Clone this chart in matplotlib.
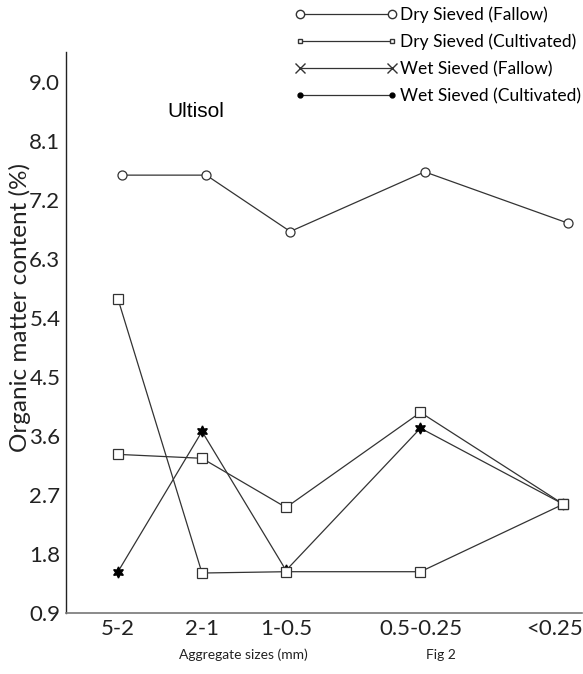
import matplotlib
matplotlib.use('Agg')
import matplotlib.pyplot as plt
import matplotlib.transforms as mtransforms
from matplotlib.lines import Line2D

# aggregate size classes and where they sit on the (uneven) x axis
sizes = ['5-2', '2-1', '1-0.5', '0.5-0.25', '<0.25']
size_pos = [0, 1, 2, 3.6, 5.3]

dry_fallow = [7.58, 7.58, 6.72, 7.63, 6.85]
dry_cultivated = [5.69, 1.51, 1.53, 1.53, 2.56]
wet_fallow = [3.32, 3.26, 2.51, 3.96, 2.56]
wet_cultivated = [1.53, 3.67, 1.55, 3.72, 2.56]

yticks = [0.9, 1.8, 2.7, 3.6, 4.5, 5.4, 6.3, 7.2, 8.1, 9.0]

plt.rcParams['font.family'] = ['Lato', 'DejaVu Sans']
lc = '#333333'

fig = plt.figure(figsize=(5.83, 6.74), dpi=100)
ax = fig.add_axes([0.113, 0.0905, 0.885, 0.8325])

# the circle series sits a touch to the right in the original
ax.plot([p + 0.05 for p in size_pos], dry_fallow, color=lc, lw=0.9,
        marker='o', ms=6.5, mfc='white', mec=lc, mew=0.9)
ax.plot(size_pos, wet_cultivated, color=lc, lw=0.9, marker=(6, 1, 0), ms=8,
        mfc='black', mec='black', zorder=2)
ax.plot(size_pos, dry_cultivated, color=lc, lw=0.9, marker='s', ms=7,
        mfc='white', mec=lc, mew=0.9, zorder=3)
ax.plot(size_pos, wet_fallow, color=lc, lw=0.9, marker='s', ms=7,
        mfc='white', mec=lc, mew=0.9, zorder=3)

ax.set_xlim(-0.62, 5.52)
ax.set_ylim(0.9, 9.46)
ax.set_xticks(size_pos)
ax.set_xticklabels(sizes)
ax.set_yticks(yticks)
ax.set_yticklabels(['%.1f' % v for v in yticks])
ax.tick_params(length=0, labelsize=16, colors='#222222', pad=4)
# last label pulled left so it stays inside the figure
last = ax.get_xticklabels()[-1]
last.set_transform(last.get_transform() +
                   mtransforms.ScaledTranslation(-9 / 100, 0, fig.dpi_scale_trans))

for s in ['top', 'right']:
    ax.spines[s].set_visible(False)
ax.spines['left'].set_color('#222222')
ax.spines['bottom'].set_color('#777777')
ax.spines['left'].set_linewidth(1.0)
ax.spines['bottom'].set_linewidth(1.2)

ax.set_ylabel('Organic matter content (%)', fontsize=17.5, color='#222222')
ax.yaxis.set_label_coords(-0.068, 0.545)
ax.text(0.93, 8.55, 'Ultisol', fontsize=15, family='Liberation Sans',
        ha='center', va='center')

fig.text(243 / 583, 1 - 655 / 674, 'Aggregate sizes (mm)', fontsize=10,
         ha='center', va='center', color='#222222')
fig.text(441 / 583, 1 - 655 / 674, 'Fig 2', fontsize=10,
         ha='center', va='center', color='#222222')

# legend proxies, markers at both ends of a long line
handles = [
    Line2D([], [], color=lc, lw=0.9, marker='o', ms=6, mfc='white', mec=lc),
    Line2D([], [], color=lc, lw=0.9, marker='s', ms=3, mfc='white', mec=lc),
    Line2D([], [], color=lc, lw=0.9, marker='x', ms=6.5, mec=lc),
    Line2D([], [], color=lc, lw=0.9, marker='o', ms=3.5, mfc='black', mec='black'),
]
labels = ['Dry Sieved (Fallow)', 'Dry Sieved (Cultivated)',
          'Wet Sieved (Fallow)', 'Wet Sieved (Cultivated)']
fig.legend(handles, labels, loc='upper right', bbox_to_anchor=(1.0, 0.993),
           frameon=False, fontsize=12.5, numpoints=2, handlelength=5.9,
           handletextpad=0.15, labelspacing=0.62, borderaxespad=0.0,
           borderpad=0.1)

fig.savefig('out.png', dpi=100)
